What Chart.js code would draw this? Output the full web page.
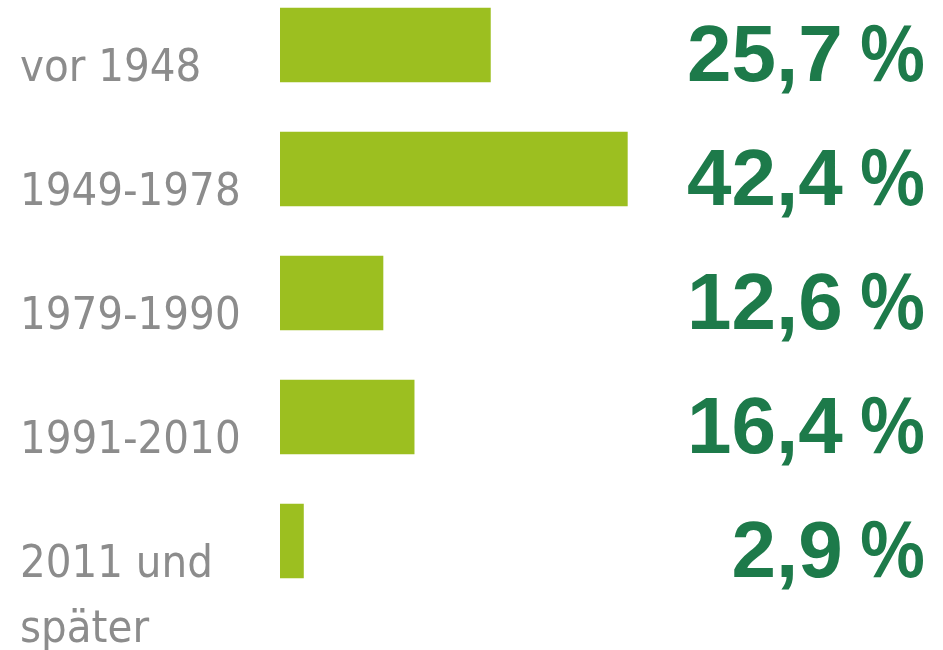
<!DOCTYPE html>
<html>
<head>
<meta charset="utf-8">
<script src="https://cdn.jsdelivr.net/npm/chart.js@4.4.1/dist/chart.umd.min.js"></script>
<style>
  html, body { margin: 0; padding: 0; background: #fff; overflow: hidden; }
  #wrap { position: relative; width: 943px; height: 650px; overflow: hidden; }
  #chart { position: absolute; left: 0; top: -17px; }
</style>
</head>
<body>
<div id="wrap">
  <canvas id="chart" width="943" height="667"></canvas>
</div>
<script>
// Baujahr der Wohngebäude
var categories = [["vor 1948"], ["1949-1978"], ["1979-1990"], ["1991-2010"], ["", "2011 und", "später"]];
var anteile = [25.7, 42.4, 12.6, 16.4, 2.9];

var barColor = "#9cbf20";
var valueColor = "#1d7a4a";
var labelColor = "#8c8c8c";

function fmt(v) {
  return v.toFixed(1).replace(".", ",");
}

// Prozentwerte rechts neben den Balken
var valueLabels = {
  id: "valueLabels",
  afterDatasetsDraw: function (chart) {
    var ctx = chart.ctx;
    var meta = chart.getDatasetMeta(0);
    var right = 926;
    ctx.save();
    ctx.fillStyle = valueColor;
    ctx.textAlign = "right";
    ctx.textBaseline = "alphabetic";
    meta.data.forEach(function (bar, i) {
      var y = bar.y + 36;
      ctx.font = "600 78px 'Open Sans', 'Liberation Sans', sans-serif";
      var pw = ctx.measureText("%").width;
      ctx.fillText("%", right, y);
      ctx.font = "bold 80px 'Liberation Sans', Arial, sans-serif";
      ctx.fillText(fmt(anteile[i]), right - pw - 16, y);
    });
    ctx.restore();
  },
};

var chart = new Chart(document.getElementById("chart"), {
  type: "bar",
  data: {
    labels: categories,
    datasets: [
      {
        data: anteile,
        backgroundColor: barColor,
        borderWidth: 0,
        barPercentage: 0.6,
        categoryPercentage: 1,
      },
    ],
  },
  options: {
    indexAxis: "y",
    responsive: false,
    animation: false,
    layout: { padding: { left: 20, right: 253, top: 0, bottom: 47 } },
    plugins: {
      legend: { display: false },
      tooltip: { enabled: false },
    },
    scales: {
      x: { display: false, min: 0, max: 50 },
      y: {
        grid: { display: false },
        border: { display: false },
        ticks: {
          autoSkip: false,
          crossAlign: "far",
          padding: 0,
          labelOffset: 24,
          color: labelColor,
          font: { family: "'Liberation Sans Narrow', 'DejaVu Sans Condensed', sans-serif", size: 45, lineHeight: 1.45 },
        },
        afterFit: function (scale) {
          scale.width = 260;
          scale.paddingTop = 0;
          scale.paddingBottom = 0;
        },
      },
    },
  },
  plugins: [valueLabels],
});
</script>
</body>
</html>
